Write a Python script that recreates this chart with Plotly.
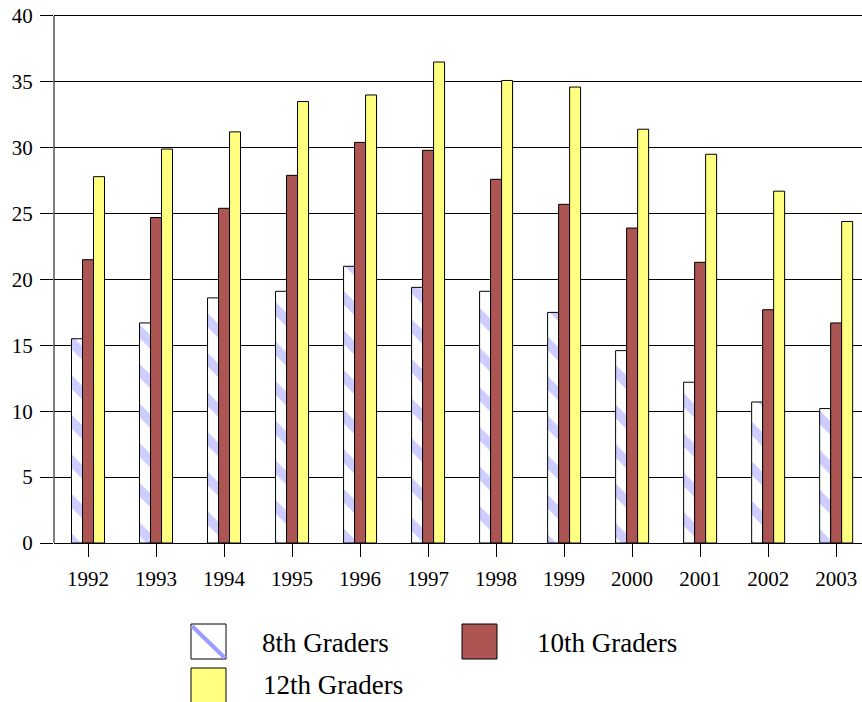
import plotly.graph_objects as go

years = ["1992", "1993", "1994", "1995", "1996", "1997", "1998", "1999", "2000", "2001", "2002", "2003"]
grade8 = [15.5, 16.7, 18.6, 19.1, 21.0, 19.4, 19.1, 17.5, 14.6, 12.2, 10.7, 10.2]
grade10 = [21.5, 24.7, 25.4, 27.9, 30.4, 29.8, 27.6, 25.7, 23.9, 21.3, 17.7, 16.7]
grade12 = [27.8, 29.9, 31.2, 33.5, 34.0, 36.5, 35.1, 34.6, 31.4, 29.5, 26.7, 24.4]
series_names = ["8th Graders", "10th Graders", "12th Graders"]
y_ticks = [0, 5, 10, 15, 20, 25, 30, 35, 40]

STRIPE = "#9c9cff"
BROWN = "#ac5553"
YELLOW = "#ffff80"
FONT = "Liberation Serif"

W, H = 862, 702
L, T, B = 54, 8, 159
PLOT_W = W - L
PLOT_H = H - T - B
Y_TOP = 40.6  # leaves ~8px above the 40 line

fig = go.Figure()
fig.add_trace(go.Bar(
    x=years, y=grade8, name=series_names[0],
    marker=dict(color="white", line=dict(color="black", width=1),
                pattern=dict(shape="\\", fgcolor=STRIPE, bgcolor="white",
                             size=28, solidity=0.35, fillmode="overlay")),
))
fig.add_trace(go.Bar(
    x=years, y=grade10, name=series_names[1],
    marker=dict(color=BROWN, line=dict(color="black", width=1)),
))
fig.add_trace(go.Bar(
    x=years, y=grade12, name=series_names[2],
    marker=dict(color=YELLOW, line=dict(color="black", width=1)),
))

fig.update_layout(
    width=W, height=H,
    margin=dict(l=L, r=0, t=T, b=B, autoexpand=False),
    paper_bgcolor="white", plot_bgcolor="white",
    barmode="group", bargap=0.515, bargroupgap=0,
    showlegend=False,
    font=dict(family=FONT, size=21, color="black"),
)
fig.update_xaxes(
    type="category", range=[-0.5, 11.38], automargin=False,
    showline=True, linecolor="black", linewidth=1,
    ticks="outside", ticklen=13, tickcolor="black", tickwidth=1,
    tickfont=dict(family=FONT, size=21, color="black"),
    ticklabelstandoff=4, ticklabeloverflow="allow",
    showgrid=False, fixedrange=True,
)
fig.update_yaxes(
    range=[0, Y_TOP], tickvals=y_ticks, automargin=False,
    showline=False,
    ticks="outside", ticklen=13, tickcolor="black", tickwidth=1,
    tickfont=dict(family=FONT, size=21, color="black"),
    ticklabelstandoff=3, ticklabeloverflow="allow",
    showgrid=True, gridcolor="black", gridwidth=1,
    zeroline=False, fixedrange=True,
)
# vertical axis line only from 0 to 40
fig.add_shape(type="line", xref="paper", yref="y", x0=0, x1=0,
              y0=y_ticks[0], y1=y_ticks[-1], line=dict(color="black", width=1))

# Custom legend (large swatches) at the bottom, positions in page pixels
def px_x(v):
    return (v - L) / PLOT_W

def px_y(v):
    return (T + PLOT_H - v) / PLOT_H

swatches = [
    (191, 624, 226, 659, "white", series_names[0], 260, 643),
    (462, 624, 497, 659, BROWN, series_names[1], 535, 643),
    (191, 668, 226, 703, YELLOW, series_names[2], 261, 685),
]
for x0, y0, x1, y1, col, label, tx, ty in swatches:
    fig.add_shape(type="rect", xref="paper", yref="paper",
                  x0=px_x(x0), x1=px_x(x1), y0=px_y(y0), y1=px_y(y1),
                  fillcolor=col, line=dict(color="black", width=1))
    fig.add_annotation(xref="paper", yref="paper", x=px_x(tx), y=px_y(ty),
                       text=label, showarrow=False, xanchor="left", yanchor="middle",
                       font=dict(family=FONT, size=27, color="black"))
# diagonal stripe in the 8th graders swatch
fig.add_shape(type="line", xref="paper", yref="paper",
              x0=px_x(192), y0=px_y(626), x1=px_x(225), y1=px_y(658),
              line=dict(color=STRIPE, width=4))

fig.write_html("out.html",
               config={"displayModeBar": False},
               post_script="document.body.style.margin='0';document.body.style.overflow='hidden';")
